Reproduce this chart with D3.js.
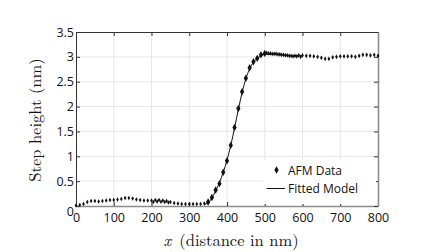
<!DOCTYPE html>
<html>
<head>
<meta charset="utf-8">
<script src="https://cdn.jsdelivr.net/npm/d3@7"></script>
<style>
  body { margin: 0; background: #fff; }
  svg { display: block; }
</style>
</head>
<body>
<div id="chart"></div>
<script>
// AFM profile, main scan
var afmX = [0, 10, 20, 30, 40, 50, 60, 70, 80, 90, 100, 110, 120, 130, 140, 150, 160, 170, 180, 190,
    200, 210, 220, 230, 240, 250, 260, 270, 280, 290, 300, 310, 320, 330, 340, 350, 360, 370, 380, 390,
    400, 410, 420, 430, 440, 450, 460, 470, 480, 490, 500, 510, 520, 530, 540, 550, 560, 570, 580, 590,
    600, 610, 620, 630, 640, 650, 660, 670, 680, 690, 700, 710, 720, 730, 740, 750, 760, 770, 780, 790, 800]
var afmY = [0.01, 0.02, 0.04, 0.08, 0.10, 0.10, 0.09, 0.10, 0.11, 0.12, 0.12, 0.13, 0.14, 0.16, 0.16, 0.15, 0.13, 0.12, 0.11, 0.11,
    0.11, 0.12, 0.12, 0.11, 0.10, 0.08, 0.06, 0.05, 0.04, 0.04, 0.04, 0.04, 0.04, 0.04, 0.05, 0.08, 0.17, 0.32, 0.45, 0.68,
    0.91, 1.22, 1.58, 1.96, 2.30, 2.57, 2.78, 2.90, 2.97, 3.04, 3.07, 3.07, 3.06, 3.06, 3.05, 3.04, 3.03, 3.02, 3.02, 3.03,
    3.03, 3.02, 3.02, 3.01, 3.00, 2.98, 2.96, 2.96, 2.99, 3.00, 3.01, 3.01, 3.01, 3.01, 3.00, 3.02, 3.04, 3.04, 3.03, 3.04, 3.02]

// second pass points overlapping the first
var afm2X = [205, 215, 225, 235, 245, 505, 515, 525, 535, 545, 555, 565, 575, 585, 595]
var afm2Y = [0.08, 0.09, 0.085, 0.08, 0.07, 3.08, 3.07, 3.06, 3.05, 3.04, 3.03, 3.02, 3.01, 3.01, 3.00]

// fitted model
var fitX = [340, 350, 360, 370, 380, 390, 400, 410, 420, 430, 440, 450, 460, 470, 480, 490, 500, 520, 540, 560, 580, 600]
var fitY = [0.03, 0.07, 0.16, 0.31, 0.47, 0.68, 0.92, 1.22, 1.57, 1.94, 2.28, 2.56, 2.76, 2.89, 2.97, 3.02, 3.05, 3.05, 3.04, 3.03, 3.02, 3.02]

var xTicks = [0, 100, 200, 300, 400, 500, 600, 700, 800]
var yTicks = [0, 0.5, 1, 1.5, 2, 2.5, 3, 3.5]
var yTickLabels = ["0", "0.5", "1", "1.5", "2", "2.5", "3", "3.5"]
var legendLabels = ["AFM Data", "Fitted Model"]

var width = 440,
    height = 252
var margin = {top: 32, right: 62, bottom: 46, left: 76}
var plotW = width - margin.left - margin.right,
    plotH = height - margin.top - margin.bottom

var svg = d3.select("#chart").append("svg")
    .attr("width", width)
    .attr("height", height)

var x = d3.scaleLinear().domain([0, 800]).range([margin.left, margin.left + plotW])
var y = d3.scaleLinear().domain([0, 3.5]).range([margin.top + plotH, margin.top])

var tickFont = "'Open Sans', 'Noto Sans', sans-serif"

// grid
svg.append("g").selectAll("line.gx")
    .data(xTicks.slice(1, -1))
    .enter().append("line")
    .attr("x1", d => x(d)).attr("x2", d => x(d))
    .attr("y1", y(0)).attr("y2", y(3.5))
    .attr("stroke", "#e6e6e6").attr("stroke-width", 1)
svg.append("g").selectAll("line.gy")
    .data(yTicks.slice(1, -1))
    .enter().append("line")
    .attr("x1", x(0)).attr("x2", x(800))
    .attr("y1", d => y(d)).attr("y2", d => y(d))
    .attr("stroke", "#e6e6e6").attr("stroke-width", 1)

// axes (ticks inside, mirrored)
var bottomAxis = svg.append("g")
    .attr("transform", "translate(0," + y(0) + ")")
    .call(d3.axisBottom(x).tickValues(xTicks).tickSize(-4).tickPadding(7).tickSizeOuter(0))
var topAxis = svg.append("g")
    .attr("transform", "translate(0," + y(3.5) + ")")
    .call(d3.axisTop(x).tickValues(xTicks).tickSize(-4).tickFormat("").tickSizeOuter(0))
var leftAxis = svg.append("g")
    .attr("transform", "translate(" + x(0) + ",0)")
    .call(d3.axisLeft(y).tickValues(yTicks).tickSize(-4).tickPadding(2).tickSizeOuter(0)
        .tickFormat((d, i) => yTickLabels[i]))
var rightAxis = svg.append("g")
    .attr("transform", "translate(" + x(800) + ",0)")
    .call(d3.axisRight(y).tickValues(yTicks).tickSize(-4).tickFormat("").tickSizeOuter(0))

;[bottomAxis, leftAxis].forEach(function (g) {
    g.selectAll("text")
        .attr("font-family", tickFont)
        .attr("font-size", "12.5px")
        .attr("fill", "#111")
})
leftAxis.select(".tick:first-of-type text").attr("dy", "0.75em")

topAxis.select(".domain").attr("stroke", "#333")
leftAxis.select(".domain").attr("stroke", "#333")
bottomAxis.select(".domain").attr("stroke", "#8c8c8c").attr("stroke-width", 1.6)
rightAxis.select(".domain").attr("stroke", "#8c8c8c").attr("stroke-width", 1.6)
;[bottomAxis, topAxis, leftAxis, rightAxis].forEach(function (g) {
    g.selectAll(".tick line").attr("stroke", "#333")
})

// fitted line
var line = d3.line()
    .x((d, i) => x(fitX[i]))
    .y((d, i) => y(fitY[i]))
    .curve(d3.curveMonotoneX)
svg.append("path")
    .datum(fitY)
    .attr("d", line)
    .attr("fill", "none")
    .attr("stroke", "#111")
    .attr("stroke-width", 1)

// markers
var pts = afmX.map((d, i) => ({x: d, y: afmY[i]}))
    .concat(afm2X.map((d, i) => ({x: d, y: afm2Y[i]})))
var smallDiamond = d3.symbol().type(d3.symbolDiamond).size(6)
var bigDiamond = d3.symbol().type(d3.symbolDiamond).size(16)
svg.append("g").selectAll("path")
    .data(pts)
    .enter().append("path")
    .attr("transform", d => "translate(" + x(d.x) + "," + y(d.y) + ")")
    .attr("d", d => (d.x >= 350 && d.x <= 500) ? bigDiamond() : smallDiamond())
    .attr("fill", "#111")

// legend
var legend = svg.append("g")
    .attr("transform", "translate(263,160)")
legend.append("rect")
    .attr("width", 113).attr("height", 44)
    .attr("fill", "#fff")
legend.append("path")
    .attr("transform", "translate(13.5,10)")
    .attr("d", bigDiamond())
    .attr("fill", "#111")
legend.append("line")
    .attr("x1", 3.5).attr("x2", 22).attr("y1", 28.5).attr("y2", 28.5)
    .attr("stroke", "#111").attr("stroke-width", 1)
legend.selectAll("text")
    .data(legendLabels)
    .enter().append("text")
    .attr("x", 25)
    .attr("y", (d, i) => 14.5 + i * 18)
    .attr("font-family", tickFont)
    .attr("font-size", "12px")
    .attr("fill", "#111")
    .text(d => d)

// axis titles
var serif = "'Latin Modern Roman', 'Liberation Serif', 'DejaVu Serif', serif"
var xt = svg.append("text")
    .attr("x", 231)
    .attr("y", 246)
    .attr("text-anchor", "middle")
    .attr("font-family", serif)
    .attr("font-size", "16.5px")
    .attr("fill", "#111")
xt.append("tspan").attr("font-style", "italic").text("x")
xt.append("tspan").text("\u2002(distance in nm)")

svg.append("text")
    .attr("transform", "translate(41,120) rotate(-90)")
    .attr("text-anchor", "middle")
    .attr("font-family", serif)
    .attr("font-size", "16.5px")
    .attr("fill", "#111")
    .text("Step height (nm)")
</script>
</body>
</html>
